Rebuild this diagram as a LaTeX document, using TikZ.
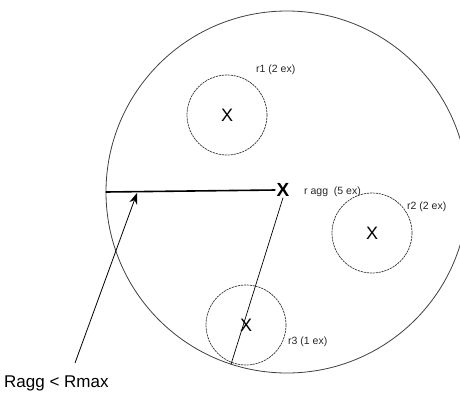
\documentclass[tikz,border=0pt]{standalone}
\usepackage{fontspec}
\setmainfont{Liberation Sans}
\usetikzlibrary{arrows.meta,positioning,calc}

\begin{document}
\begin{tikzpicture}[x=1pt, y=-1pt,
  big/.style={draw=black!75, circle, minimum size=362pt, inner sep=0pt, line width=0.8pt},
  sub/.style={draw=black!80, circle, dashed, dash pattern=on 2.2pt off 0.8pt,
    minimum size=80pt, inner sep=0pt, line width=0.7pt, font=\fontsize{18}{18}\selectfont},
  lbl/.style={font=\fontsize{10.5}{11}\selectfont, text=black!85, inner sep=0pt},
  lnk/.style={-{Stealth[length=11pt, width=8pt]}, line width=0.8pt},
]
\useasboundingbox (0,0) rectangle (460,394);
\node[big] (outer) at (287,192) {};
% aggregate centre
\node[font=\bfseries\fontsize{19}{19}\selectfont, inner sep=1pt] (agg) at (283,190) {X};
\node[lbl, anchor=west] at (304,192) {r agg\ \ (5 ex)};
% sub-circles
\node[sub] (c1) at (227,115) {X};
\node[lbl, anchor=west] at (256,70) {r1 (2 ex)};
\node[sub] (c2) at (372,233) {X};
\node[lbl, anchor=west] at (407,207) {r2 (2 ex)};
\node[sub] (c3) at (246,325) {X};
\node[lbl, anchor=west] at (288,342) {r3 (1 ex)};
% radius lines
\draw[line width=1.6pt] (outer.west) -- (agg.west);
\draw[line width=0.7pt] (agg.south) -- (outer.252.7);
% annotation
\node[font=\fontsize{17}{17}\selectfont, anchor=west, inner sep=0pt] (note) at (4,383) {Ragg < Rmax};
\coordinate (tail) at (75,363);
\coordinate (tip) at (137,193);
\draw[lnk] (tail) -- (tip);
\end{tikzpicture}
\end{document}
